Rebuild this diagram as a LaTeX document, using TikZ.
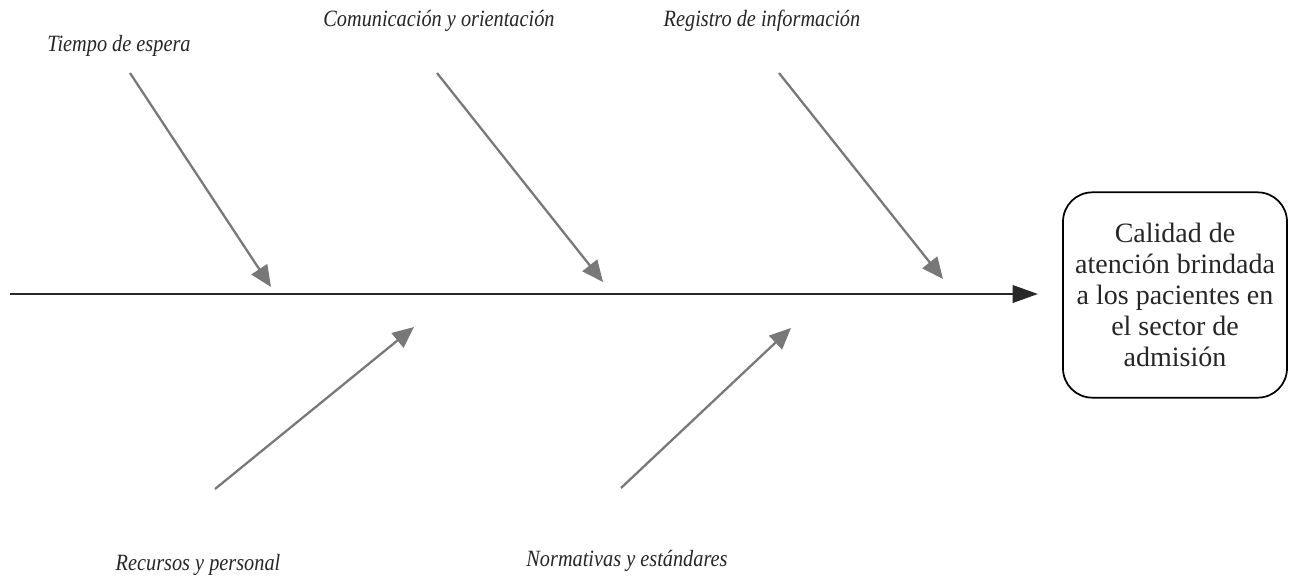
\documentclass[tikz,border=0pt]{standalone}
\usepackage{fontspec}
\setmainfont{Liberation Serif}
\usetikzlibrary{arrows.meta}
\definecolor{branchgray}{RGB}{120,120,120}
\definecolor{spinegray}{RGB}{40,40,40}
\tikzset{
  cause/.style={font=\fontsize{17.5}{20}\selectfont\itshape, text=black!85, inner sep=0pt, xscale=0.87, transform shape},
  branch/.style={draw=branchgray, line width=1.7pt, -{Triangle[length=16pt,width=14pt]}},
  spine/.style={draw=spinegray, line width=2pt, -{Triangle[length=19pt,width=13pt]}},
  effect/.style={draw=black, line width=1.3pt, rounded corners=22pt, minimum width=168pt, minimum height=154pt,
    align=center, font=\fontsize{21}{23.2}\selectfont, text=black!85, inner sep=0pt}
}
\begin{document}
\begin{tikzpicture}[x=0.75pt,y=-0.75pt]
\path[use as bounding box, fill=white] (0,0) rectangle (1297,579);
% effect box
\node[effect] (eff) at (1175,295) {Calidad de\\atención brindada\\a los pacientes en\\el sector de\\admisión};
% spine
\coordinate (s0) at (10,294);
\coordinate (s1) at (1038,294);
\draw[spine] (s0) -- (s1);
% labels
\node[cause] (t1) at (119,46) {Tiempo de espera};
\node[cause] (t2) at (439,21) {Comunicación y orientación};
\node[cause] (t3) at (762,21) {Registro de información};
\node[cause] (t4) at (198,565) {Recursos y personal};
\node[cause] (t5) at (627,561) {Normativas y estándares};
% branch coordinates
\coordinate (a1) at (130,73);  \coordinate (b1) at (271,287);
\coordinate (a2) at (437,73);  \coordinate (b2) at (603,282);
\coordinate (a3) at (779,73);  \coordinate (b3) at (943,279);
\coordinate (a4) at (215,489); \coordinate (b4) at (414,327);
\coordinate (a5) at (621,488); \coordinate (b5) at (791,328);
\draw[branch] (a1) -- (b1);
\draw[branch] (a2) -- (b2);
\draw[branch] (a3) -- (b3);
\draw[branch] (a4) -- (b4);
\draw[branch] (a5) -- (b5);
\end{tikzpicture}
\end{document}
